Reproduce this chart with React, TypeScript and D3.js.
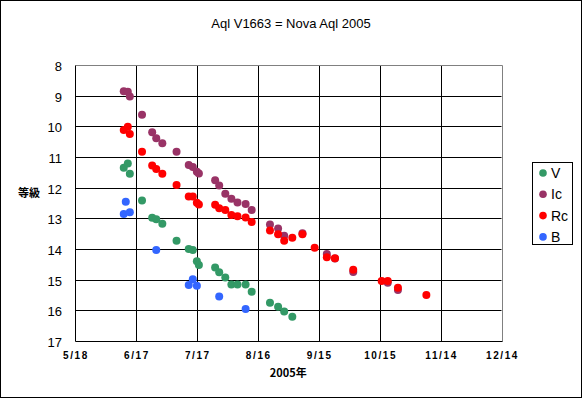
import React, { useEffect, useRef } from 'react';
import * as d3 from 'd3';

// Chart text
const titleText = 'Aql V1663 = Nova Aql 2005';
const xAxisTitle = '2005年';
const yAxisTitle = '等級';

// Axis ticks
const xTickLabels = ['5/18', '6/17', '7/17', '8/16', '9/15', '10/15', '11/14', '12/14'];
const yTicks = [8, 9, 10, 11, 12, 13, 14, 15, 16, 17];

// Legend / series
const seriesNames = ['V', 'Ic', 'Rc', 'B'];
const seriesColors = ['#339966', '#993366', '#ff0000', '#3366ff'];

// V band
const vDates = ['6/11', '6/13', '6/14', '6/20', '6/25', '6/27', '6/30', '7/7', '7/13', '7/15', '7/17', '7/18',
    '7/26', '7/28', '7/31', '8/3', '8/6', '8/10', '8/13', '8/22', '8/26', '8/29', '9/2'];
const vMags = [11.35, 11.21, 11.55, 12.42, 12.98, 13.03, 13.18, 13.73, 14.0, 14.03, 14.4, 14.52,
    14.6, 14.76, 14.93, 15.16, 15.16, 15.16, 15.39, 15.75, 15.88, 16.04, 16.21];

// Ic band
const icDates = ['6/11', '6/13', '6/14', '6/20', '6/25', '6/27', '6/30', '7/7', '7/13', '7/15', '7/17', '7/18',
    '7/26', '7/28', '7/31', '8/3', '8/6', '8/10', '8/13', '8/22', '8/26', '8/29', '9/7', '9/19', '9/23',
    '10/2', '10/19', '10/24'];
const icMags = [8.86, 8.87, 9.03, 9.62, 10.19, 10.39, 10.55, 10.83, 11.26, 11.33, 11.48, 11.54,
    11.76, 11.93, 12.2, 12.36, 12.48, 12.53, 12.73, 13.2, 13.33, 13.57, 13.49, 14.16, 14.31,
    14.75, 15.1, 15.34];

// Rc band
const rcDates = ['6/11', '6/13', '6/14', '6/20', '6/25', '6/27', '6/30', '7/7', '7/13', '7/15', '7/17', '7/18',
    '7/26', '7/28', '7/31', '8/3', '8/6', '8/10', '8/13', '8/22', '8/26', '8/29', '9/2', '9/7', '9/13',
    '9/19', '9/23', '10/2', '10/16', '10/19', '10/24', '11/7'];
const rcMags = [10.12, 10.01, 10.25, 10.83, 11.28, 11.39, 11.55, 11.91, 12.29, 12.29, 12.49, 12.55,
    12.56, 12.67, 12.73, 12.89, 12.93, 12.97, 13.12, 13.4, 13.52, 13.73, 13.63, 13.52, 13.96,
    14.27, 14.3, 14.68, 15.04, 15.04, 15.26, 15.5];

// B band
const bDates = ['6/11', '6/12', '6/14', '6/27', '7/13', '7/15', '7/17', '7/28', '8/10'];
const bMags = [12.86, 12.46, 12.8, 14.03, 15.17, 14.99, 15.2, 15.55, 15.96];

const parseDate = d3.timeParse('%Y/%m/%d');
const toDate = (s: string) => parseDate(`2005/${s}`) as Date;

const App = () => {
    const svgRef = useRef<SVGSVGElement>(null);

    useEffect(() => {
        const width = 583;
        const height = 399;
        const plot = { left: 75, right: 501.5, top: 65, bottom: 341 };

        const svg = d3.select(svgRef.current);
        svg.selectAll('*').remove();
        svg.attr('width', width).attr('height', height);

        // Outer chart border
        svg.append('rect')
            .attr('x', 0.5).attr('y', 0.5)
            .attr('width', 581).attr('height', 397)
            .attr('fill', 'white')
            .attr('stroke', 'black');

        const xTicks = xTickLabels.map(toDate);
        const x = d3.scaleTime()
            .domain([xTicks[0], xTicks[xTicks.length - 1]])
            .range([plot.left, plot.right]);
        const y = d3.scaleLinear().domain([8, 17]).range([plot.top, plot.bottom]);

        const px = (v: number) => Math.round(v) + 0.5;

        // Horizontal grid lines
        svg.append('g').selectAll('line')
            .data(yTicks.slice(1, -1))
            .enter().append('line')
            .attr('x1', plot.left).attr('x2', plot.right)
            .attr('y1', d => px(y(d))).attr('y2', d => px(y(d)))
            .attr('stroke', 'black');

        // Vertical grid lines
        svg.append('g').selectAll('line')
            .data(xTicks.slice(1, -1))
            .enter().append('line')
            .attr('x1', d => px(x(d))).attr('x2', d => px(x(d)))
            .attr('y1', plot.top).attr('y2', plot.bottom)
            .attr('stroke', 'black');

        // Plot frame: gray top/right, black axes
        svg.append('path')
            .attr('d', `M${px(plot.left)},${px(plot.top)}H${px(plot.right)}V${px(plot.bottom)}`)
            .attr('fill', 'none').attr('stroke', '#808080');
        svg.append('path')
            .attr('d', `M${px(plot.left)},${px(plot.top)}V${px(plot.bottom)}H${px(plot.right)}`)
            .attr('fill', 'none').attr('stroke', 'black');

        // Y tick labels
        svg.append('g').selectAll('text')
            .data(yTicks)
            .enter().append('text')
            .attr('x', 62)
            .attr('y', d => y(d) + 6)
            .attr('text-anchor', 'end')
            .attr('font-family', '"Liberation Sans", Arial, sans-serif')
            .attr('font-size', 13)
            .text(d => d);

        // X tick labels
        svg.append('g').selectAll('text')
            .data(xTicks)
            .enter().append('text')
            .attr('x', d => x(d) + 1)
            .attr('y', 359)
            .attr('text-anchor', 'middle')
            .attr('font-family', '"Liberation Sans", Arial, sans-serif')
            .attr('font-size', 10)
            .attr('font-weight', 'bold')
            .attr('letter-spacing', 1.6)
            .text((d, i) => xTickLabels[i]);

        // Axis titles
        svg.append('text')
            .attr('x', (plot.left + plot.right) / 2)
            .attr('y', 377)
            .attr('text-anchor', 'middle')
            .attr('font-family', '"Noto Sans CJK JP", sans-serif')
            .attr('font-size', 11)
            .attr('font-weight', 'bold')
            .text(xAxisTitle);
        svg.append('text')
            .attr('x', 29)
            .attr('y', 197)
            .attr('text-anchor', 'middle')
            .attr('font-family', '"Noto Sans CJK JP", sans-serif')
            .attr('font-size', 11)
            .attr('font-weight', 'bold')
            .text(yAxisTitle);

        // Title
        svg.append('text')
            .attr('x', 291)
            .attr('y', 28)
            .attr('text-anchor', 'middle')
            .attr('font-family', '"Liberation Sans", Arial, sans-serif')
            .attr('font-size', 13)
            .text(titleText);

        // Data points, drawn in series order so Rc sits on top of Ic
        const series = [
            { dates: vDates, mags: vMags },
            { dates: icDates, mags: icMags },
            { dates: rcDates, mags: rcMags },
            { dates: bDates, mags: bMags },
        ];
        series.forEach((s, si) => {
            svg.append('g').selectAll('circle')
                .data(s.dates.map((d, i) => ({ date: toDate(d), mag: s.mags[i] })))
                .enter().append('circle')
                .attr('cx', d => x(d.date))
                .attr('cy', d => y(d.mag))
                .attr('r', 4)
                .attr('fill', seriesColors[si]);
        });

        // Legend
        const legend = svg.append('g');
        legend.append('rect')
            .attr('x', 532.5).attr('y', 162.5)
            .attr('width', 40).attr('height', 82)
            .attr('fill', 'white').attr('stroke', 'black');
        const items = legend.selectAll('g.item')
            .data(seriesNames)
            .enter().append('g')
            .attr('class', 'item')
            .attr('transform', (d, i) => `translate(0,${173 + i * 21.3})`);
        items.append('circle')
            .attr('cx', 543).attr('cy', 0).attr('r', 3.8)
            .attr('fill', (d, i) => seriesColors[i]);
        items.append('text')
            .attr('x', 551).attr('y', 5)
            .attr('font-family', '"Liberation Sans", Arial, sans-serif')
            .attr('font-size', 14)
            .text(d => d);
    }, []);

    return <svg ref={svgRef} style={{ position: 'absolute', left: 0, top: 0 }}></svg>;
};

export default App;
